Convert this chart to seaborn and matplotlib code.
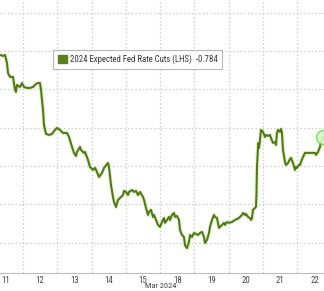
import matplotlib
matplotlib.use("Agg")
import matplotlib.pyplot as plt
from matplotlib.patches import Patch
from matplotlib import font_manager
import seaborn as sns
import pandas as pd

# Time in trading-day units (day boundaries at integers; Mar 11 session spans 0..1)
t = [0.329, 0.417, 0.475, 0.533, 0.563, 0.621, 0.708, 0.767, 0.796, 0.825, 0.913, 0.971,
     1.029, 1.117, 1.204, 1.291, 1.379, 1.437, 1.496, 1.525, 1.583, 1.612, 1.671, 1.758,
     1.846, 1.933, 1.991, 2.079, 2.166, 2.283, 2.341, 2.429, 2.487, 2.545, 2.574, 2.662,
     2.691, 2.778, 2.808, 2.895, 2.953, 3.041, 3.099, 3.157, 3.216, 3.303, 3.362, 3.478,
     3.507, 3.566, 3.624, 3.653, 3.711, 3.770, 3.828, 3.916, 3.945, 4.003, 4.061, 4.090,
     4.178, 4.236, 4.295, 4.353, 4.411, 4.499, 4.528, 4.586, 4.644, 4.674, 4.732, 4.790,
     4.819, 4.878, 4.936, 4.994,
     5.053, 5.111, 5.140, 5.198, 5.257, 5.286, 5.344, 5.402, 5.432, 5.490, 5.548, 5.577,
     5.636, 5.694, 5.723, 5.752, 5.781, 5.840, 5.869, 5.927, 5.985, 6.044, 6.102, 6.160,
     6.219, 6.277, 6.306, 6.364, 6.423, 6.452, 6.510, 6.569, 6.598, 6.656, 6.714, 6.743,
     6.802, 6.860, 6.889, 6.948, 7.006, 7.093, 7.181, 7.297, 7.385,
     7.414, 7.472, 7.502, 7.560, 7.618, 7.647, 7.676, 7.706, 7.764, 7.793, 7.808, 7.822,
     7.852, 7.866, 7.881, 7.910, 7.939, 7.997, 8.056, 8.085, 8.143, 8.201, 8.230, 8.289,
     8.347, 8.376, 8.405, 8.435, 8.493, 8.522, 8.551, 8.580, 8.638, 8.668, 8.726, 8.784,
     8.813, 8.872, 8.930, 8.959, 8.988, 9.047, 9.076, 9.105, 9.163, 9.222, 9.309, 9.397,
     9.513, 9.542, 9.601, 9.659, 9.688, 9.746]

cuts = [-0.8375, -0.8369, -0.8375, -0.8323, -0.8258, -0.8232, -0.8232, -0.8147, -0.8134, -0.8179, -0.8166, -0.8192,
        -0.8166, -0.8160, -0.8160, -0.8166, -0.8186, -0.8192, -0.8192, -0.8147, -0.8016, -0.7918, -0.7860, -0.7853,
        -0.7860, -0.7886, -0.7899, -0.7886, -0.7866, -0.7866, -0.7840, -0.7775, -0.7736, -0.7716, -0.7742, -0.7775,
        -0.7755, -0.7736, -0.7742, -0.7690, -0.7644, -0.7625, -0.7638, -0.7612, -0.7579, -0.7605, -0.7638, -0.7670,
        -0.7644, -0.7527, -0.7448, -0.7416, -0.7383, -0.7429, -0.7442, -0.7461, -0.7488, -0.7481, -0.7461, -0.7481,
        -0.7494, -0.7481, -0.7488, -0.7461, -0.7481, -0.7448, -0.7429, -0.7377, -0.7331, -0.7350, -0.7364, -0.7318,
        -0.7331, -0.7298, -0.7266, -0.7253,
        -0.7285, -0.7311, -0.7279, -0.7298, -0.7318, -0.7298, -0.7331, -0.7344, -0.7318, -0.7324, -0.7298, -0.7233,
        -0.7200, -0.7187, -0.7135, -0.7122, -0.7115, -0.7155, -0.7200, -0.7187, -0.7213, -0.7207, -0.7200, -0.7213,
        -0.7220, -0.7187, -0.7148, -0.7168, -0.7213, -0.7253, -0.7298, -0.7331, -0.7318, -0.7311, -0.7246, -0.7253,
        -0.7266, -0.7279, -0.7266, -0.7285, -0.7279, -0.7285, -0.7298, -0.7311, -0.7331,
        -0.7344, -0.7331, -0.7337, -0.7318, -0.7311, -0.7298, -0.7311, -0.7364, -0.7377, -0.7383, -0.7474, -0.7644,
        -0.7775, -0.7801, -0.7768, -0.7820, -0.7886, -0.7873, -0.7840, -0.7853, -0.7847, -0.7853, -0.7833, -0.7801,
        -0.7807, -0.7788, -0.7866, -0.7886, -0.7873, -0.7892, -0.7866, -0.7755, -0.7677, -0.7657, -0.7670, -0.7696,
        -0.7703, -0.7670, -0.7625, -0.7644, -0.7638, -0.7657, -0.7657, -0.7677, -0.7709, -0.7736, -0.7736, -0.7736,
        -0.7736, -0.7723, -0.7742, -0.7775, -0.7807, -0.7840]

day_labels = ["11", "12", "13", "14", "15", "18", "19", "20", "21", "22"]
month_label = "Mar 2024"
series_name = "2024 Expected Fed Rate Cuts (LHS)"
last_value = "-0.784"
grid_values = [-0.865, -0.84, -0.815, -0.79, -0.765, -0.74, -0.715]

df = pd.DataFrame({"t": t, "cuts": cuts})

sns.set_style("white")
fam = "Liberation Sans"
for cand in ["Liberation Sans Narrow", "Roboto Condensed", "Open Sans Condensed"]:
    try:
        font_manager.findfont(cand, fallback_to_default=False)
        fam = cand
        break
    except Exception:
        pass
plt.rcParams["font.family"] = [fam, "DejaVu Sans"]
narrow = fam != "Liberation Sans"

fig = plt.figure(figsize=(3.24, 2.91), dpi=100)
ax = fig.add_axes([0.0, 18 / 291, 1.0, 1 - 18 / 291])

line_color = "#527619"
# soft glow under the line
sns.lineplot(data=df, x="t", y="cuts", ax=ax, color="#d3eab0", lw=3.0, alpha=0.6, legend=False)
sns.lineplot(data=df, x="t", y="cuts", ax=ax, color=line_color, lw=1.45, legend=False)
ax.plot([t[-1]], [cuts[-1]], marker="o", ms=10, mfc="#d6f7c8", mec="#66e04a", mew=1.0, alpha=0.9,
        zorder=5, clip_on=False)

ax.set_xlim(0.3294, 9.776)
ax.set_ylim(-0.6952, -0.8734)

ax.set_yticks(grid_values)
ax.set_yticklabels([])
ax.set_xticks(range(1, 10))
ax.set_xticklabels([])
ax.tick_params(axis="both", length=0)
ax.grid(True, color="#c4c4c4", lw=0.9, linestyle=(0, (1, 2)))
ax.set_xlabel("")
ax.set_ylabel("")

for s in ["top", "left", "right"]:
    ax.spines[s].set_visible(False)
ax.spines["bottom"].set_color("#bdbdbd")
ax.spines["bottom"].set_linewidth(0.8)

trans = ax.get_xaxis_transform()
for i, lab in enumerate(day_labels):
    ax.text(i + 0.5, -0.010, lab, transform=trans, ha="center", va="top", fontsize=6.3, color="#444444")
ax.text(5.0, -0.036, month_label, transform=trans, ha="center", va="top", fontsize=6.0, color="#444444")

handle = Patch(facecolor="#5b7f1a", edgecolor="#5b7f1a")
leg = ax.legend([handle], [series_name + "  " + last_value], loc="upper left",
                bbox_to_anchor=(53 / 324, 1 - 50 / 291), bbox_transform=fig.transFigure,
                fontsize=(6.3 if narrow else 5.2), frameon=True, fancybox=False, borderpad=0.55,
                handlelength=1.0, handleheight=1.0, handletextpad=0.35, borderaxespad=0)
leg.get_frame().set_edgecolor("#a8a8a8")
leg.get_frame().set_linewidth(0.8)
for txt in leg.get_texts():
    txt.set_color("#333333")

fig.savefig("out.png", dpi=100)
